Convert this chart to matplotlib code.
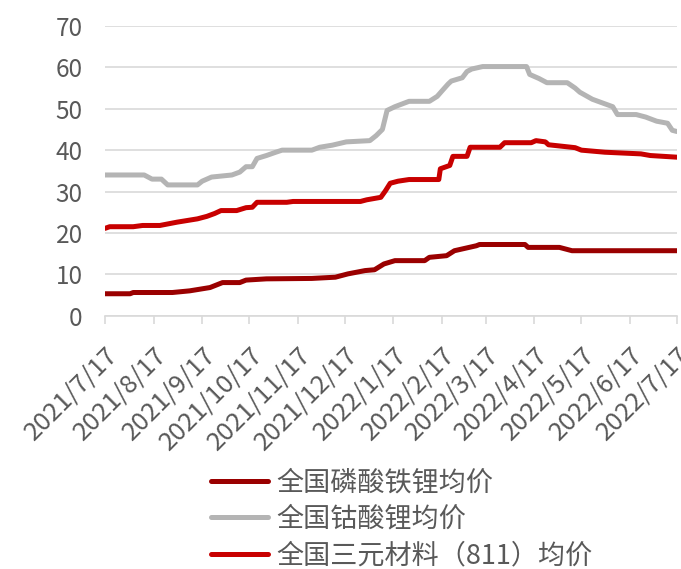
import pandas as pd
import numpy as np
import matplotlib
matplotlib.use('Agg')
import matplotlib.pyplot as plt

plt.rcParams['font.family'] = ['Noto Sans CJK SC', 'DejaVu Sans']

# 全国磷酸铁锂均价
lfp_dates = ['2021-07-17', '2021-08-02', '2021-08-04', '2021-08-29', '2021-09-09', '2021-09-22',
             '2021-09-30', '2021-10-11', '2021-10-15', '2021-10-28', '2021-11-26', '2021-12-11',
             '2021-12-19', '2021-12-30', '2022-01-05', '2022-01-11', '2022-01-18', '2022-02-06',
             '2022-02-09', '2022-02-20', '2022-02-25', '2022-03-11', '2022-03-13', '2022-04-11',
             '2022-04-13', '2022-05-03', '2022-05-11', '2022-07-17']
lfp_vals = [5.3, 5.3, 5.6, 5.6, 6.0, 6.8,
            8.0, 8.0, 8.6, 8.9, 9.0, 9.3,
            10.1, 10.9, 11.1, 12.5, 13.3, 13.3,
            14.1, 14.5, 15.7, 16.9, 17.2, 17.2,
            16.5, 16.5, 15.7, 15.7]

# 全国钴酸锂均价
lco_dates = ['2021-07-17', '2021-08-11', '2021-08-16', '2021-08-22', '2021-08-26', '2021-09-14',
             '2021-09-17', '2021-09-23', '2021-10-06', '2021-10-11', '2021-10-15', '2021-10-19',
             '2021-10-22', '2021-10-28', '2021-11-03', '2021-11-07', '2021-11-26', '2021-12-01',
             '2021-12-09', '2021-12-18', '2022-01-02', '2022-01-06', '2022-01-10', '2022-01-13',
             '2022-01-18', '2022-01-27', '2022-02-09', '2022-02-14', '2022-02-17', '2022-02-21',
             '2022-02-23', '2022-03-02', '2022-03-05', '2022-03-08', '2022-03-15', '2022-04-12',
             '2022-04-14', '2022-04-20', '2022-04-25', '2022-05-08', '2022-05-13', '2022-05-16',
             '2022-05-24', '2022-06-06', '2022-06-09', '2022-06-21', '2022-06-27', '2022-07-04',
             '2022-07-11', '2022-07-14', '2022-07-17']
lco_vals = [34, 34, 33, 33, 31.6, 31.6,
            32.5, 33.5, 34, 34.7, 36, 36,
            38, 38.7, 39.5, 40, 40, 40.7,
            41.2, 42, 42.3, 43.5, 45, 49.6,
            50.5, 51.8, 51.8, 53, 54.3, 56,
            56.7, 57.5, 59, 59.6, 60.2, 60.2,
            58.3, 57.3, 56.3, 56.3, 55, 54,
            52.3, 50.5, 48.6, 48.6, 48, 47,
            46.5, 44.8, 44.5]

# 全国三元材料（811）均价
ncm_dates = ['2021-07-17', '2021-07-20', '2021-08-04', '2021-08-10', '2021-08-21', '2021-09-01',
             '2021-09-14', '2021-09-20', '2021-09-25', '2021-09-29', '2021-10-09', '2021-10-15',
             '2021-10-19', '2021-10-22', '2021-11-10', '2021-11-14', '2021-12-27', '2021-12-31',
             '2022-01-09', '2022-01-12', '2022-01-15', '2022-01-20', '2022-01-27', '2022-02-15',
             '2022-02-16', '2022-02-22', '2022-02-24', '2022-03-05', '2022-03-07', '2022-03-26',
             '2022-03-29', '2022-04-15', '2022-04-18', '2022-04-24', '2022-04-26', '2022-05-13',
             '2022-05-17', '2022-06-01', '2022-06-24', '2022-06-30', '2022-07-17']
ncm_vals = [21.1, 21.5, 21.5, 21.8, 21.8, 22.6,
            23.4, 24, 24.7, 25.4, 25.4, 26.1,
            26.2, 27.4, 27.4, 27.6, 27.6, 28,
            28.6, 30.2, 32, 32.5, 32.9, 32.9,
            35.5, 36.3, 38.5, 38.5, 40.7, 40.7,
            41.8, 41.8, 42.3, 42, 41.3, 40.6,
            40, 39.5, 39.1, 38.7, 38.3]

labels = ['全国磷酸铁锂均价', '全国钴酸锂均价', '全国三元材料（811）均价']
colors = ['#9A0000', '#B4B4B4', '#C80000']
tick_dates = [pd.Timestamp('2021-07-17') + pd.DateOffset(months=i) for i in range(13)]
text_color = '#595959'
grid_color = '#D9D9D9'

fig = plt.figure(figsize=(6.81, 5.69), dpi=100)
ax = fig.add_axes([0.1542, 0.4452, 0.8399, 0.5091])

series = [(lfp_dates, lfp_vals), (lco_dates, lco_vals), (ncm_dates, ncm_vals)]
for (d, v), lab, c in zip(series, labels, colors):
    ax.plot(pd.to_datetime(d), v, color=c, linewidth=3.6, label=lab,
            solid_capstyle='round', solid_joinstyle='round')

ax.set_xlim(pd.Timestamp('2021-07-17'), pd.Timestamp('2022-07-17'))
ax.set_ylim(0, 70)
ax.set_yticks(np.arange(0, 71, 10))
ax.set_xticks(tick_dates)
ax.set_xticklabels([f'{t.year}/{t.month}/{t.day}' for t in tick_dates],
                   rotation=45, ha='right', va='top', rotation_mode='anchor')

ax.grid(axis='y', color=grid_color, linewidth=1.2)
ax.set_axisbelow(True)
for s in ['top', 'right', 'left']:
    ax.spines[s].set_visible(False)
ax.spines['bottom'].set_color(grid_color)
ax.spines['bottom'].set_linewidth(1.2)
ax.tick_params(axis='y', length=0, pad=16, labelsize=17.5, labelcolor=text_color)
ax.tick_params(axis='x', length=6, width=1.2, color=grid_color, pad=13,
               labelsize=18.5, labelcolor=text_color)

fig.legend(loc='center left', bbox_to_anchor=(211 / 681, 1 - 519 / 569),
           frameon=False, fontsize=19.5, labelcolor=text_color,
           borderpad=0, borderaxespad=0, handlelength=2.1, handletextpad=0.3,
           labelspacing=0.35)

fig.savefig('out.png', dpi=100)
